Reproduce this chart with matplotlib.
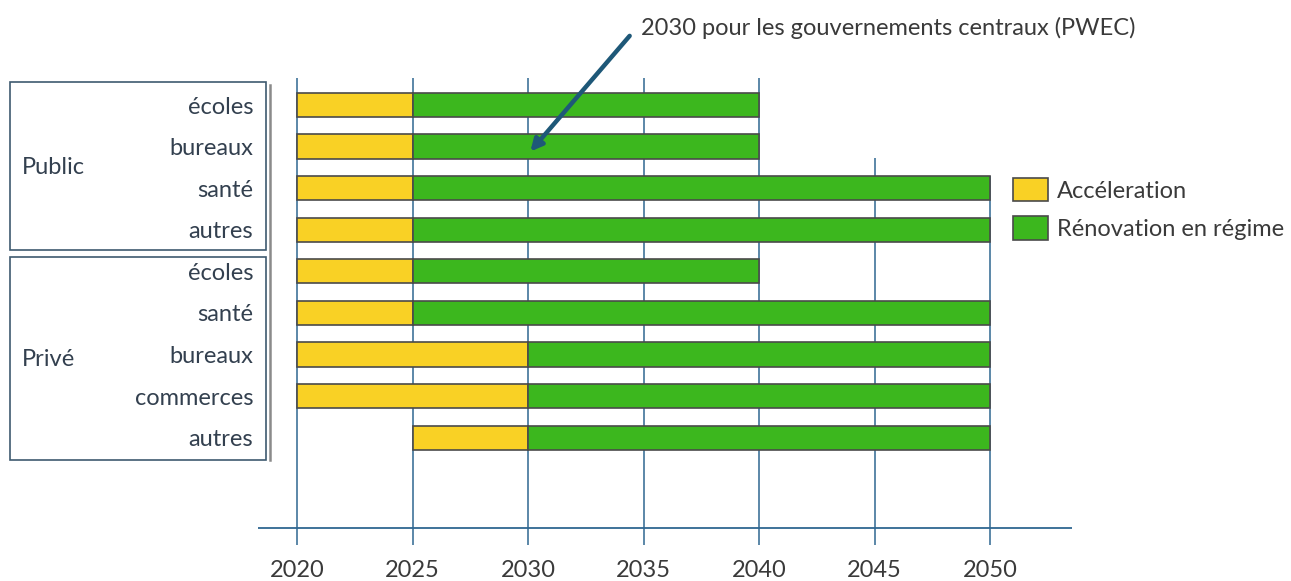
import numpy as np
import matplotlib.pyplot as plt
from matplotlib.patches import Rectangle, Patch
from matplotlib.lines import Line2D

plt.rcParams['font.family'] = ['Lato', 'DejaVu Sans']

# building segments, top to bottom
sectors = ["Public", "Privé"]
labels = ["écoles", "bureaux", "santé", "autres",
          "écoles", "santé", "bureaux", "commerces", "autres"]
start = [2020, 2020, 2020, 2020, 2020, 2020, 2020, 2020, 2025]
accel_end = [2025, 2025, 2025, 2025, 2025, 2025, 2030, 2030, 2030]
end = [2040, 2040, 2050, 2050, 2040, 2050, 2050, 2050, 2050]
years = [2020, 2025, 2030, 2035, 2040, 2045, 2050]
legend_labels = ["Accéleration", "Rénovation en régime"]
note = "2030 pour les gouvernements centraux (PWEC)"

YELLOW = "#F9D125"
GREEN = "#3CB71E"
EDGE = "#4a4a4a"
LINE = "#2F6791"
TXT = "#3a3a3a"
LAB = "#33404f"
FS = 17

W, H = 1291, 581
fig = plt.figure(figsize=(W / 100, H / 100), dpi=100)


def fx(px):
    return px / W


def fy(py):
    return 1 - py / H


ax = fig.add_axes([fx(258), fy(545), fx(1072) - fx(258), fy(60) - fy(545)])
ax.set_xlim(2018.31, 2053.55)
ax.set_ylim(10.58, -1.08)
ax.axis("off")

rows = np.arange(len(labels))
s = np.array(start)
a = np.array(accel_end)
e = np.array(end)

# grid of years behind the bars
tops = {2045: 1.27, 2050: 1.7}
for yr in years:
    ax.vlines(yr, tops.get(yr, -0.65), 10.58, color=LINE, lw=1.1, zorder=1)
ax.hlines(10.17, 2018.31, 2053.55, color=LINE, lw=1.3, zorder=1)
for yr in years:
    ax.text(yr, 11.2, str(yr), ha="center", va="center", fontsize=FS,
            color=TXT, clip_on=False)

ax.barh(rows, a - s, left=s, height=0.58, color=YELLOW,
        edgecolor=EDGE, lw=1.2, zorder=3)
ax.barh(rows, e - a, left=a, height=0.58, color=GREEN,
        edgecolor=EDGE, lw=1.2, zorder=3)

ax.annotate("", xy=(2030.1, 1.12), xytext=(2034.4, -1.66),
            arrowprops=dict(arrowstyle="-|>,head_length=0.7,head_width=0.35",
                            color="#1E5878", lw=3.2, shrinkA=0, shrinkB=0),
            annotation_clip=False, zorder=5)
ax.text(2034.9, -1.85, note, ha="left", va="center", fontsize=FS,
        color=TXT, clip_on=False)

# sector boxes on the left
for (top, bot) in [(82, 250), (257, 460)]:
    fig.patches.append(Rectangle((fx(10), fy(bot)), fx(266) - fx(10),
                                 fy(top) - fy(bot), transform=fig.transFigure,
                                 fill=False, edgecolor="#3E5A70", lw=1.2))
fig.lines.append(Line2D([fx(270), fx(270)], [fy(85), fy(460)],
                        transform=fig.transFigure, color="#8a8a8a", lw=1.8))

for r, lab in zip(rows, labels):
    ax.text(2018.31 - 5 / 23.1, r + 0.05, lab, ha="right", va="center",
            fontsize=FS, color=LAB, clip_on=False)
fig.text(fx(22), fy(167), sectors[0], ha="left", va="center", fontsize=FS,
         color=LAB)
fig.text(fx(22), fy(359), sectors[1], ha="left", va="center", fontsize=FS,
         color=LAB)

handles = [Patch(facecolor=YELLOW, edgecolor=EDGE, lw=1.2),
           Patch(facecolor=GREEN, edgecolor=EDGE, lw=1.2)]
fig.legend(handles, legend_labels, loc="upper left",
           bbox_to_anchor=(fx(1013), fy(178)), frameon=False, fontsize=FS,
           handlelength=1.48, handleheight=1.14, labelspacing=0.62,
           handletextpad=0.38, borderpad=0, borderaxespad=0, labelcolor=TXT)

fig.savefig("out.png", dpi=100)
